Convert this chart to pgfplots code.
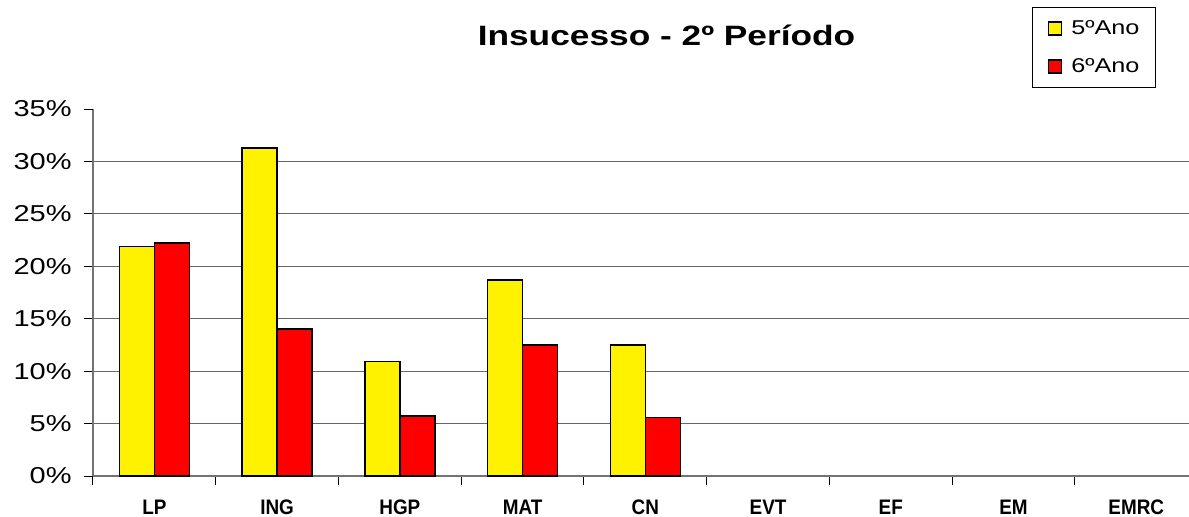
\documentclass[border=0pt]{standalone}
\usepackage{fontspec}
\setmainfont{Liberation Sans}
\newfontfamily\widefont[FakeStretch=1.26]{Liberation Sans}
\newfontfamily\narrowfont[FakeStretch=0.9]{Liberation Sans}
\usepackage{pgfplots}
\pgfplotsset{compat=1.18}
\begin{document}
\begin{tikzpicture}
\begin{axis}[
  at={(0,0)}, anchor=south west,
  scale only axis, width=548pt, height=183.5pt,
  xmin=-0.5, xmax=8.43, ymin=0, ymax=35,
  ybar=0pt, bar width=17.5pt,
  axis x line*=bottom, axis y line*=left,
  axis line style={-, draw=black!55, line width=0.6pt},
  tick align=outside, major tick length=4.5pt,
  tick style={draw=black, line width=0.5pt},
  xtick={-0.5,0.5,...,7.5}, xticklabels={},
  extra x ticks={0,1,2,3,4,5,6,7,8},
  extra x tick labels={LP,ING,HGP,MAT,CN,EVT,EF,EM,EMRC},
  extra x tick style={major tick length=0pt},
  xticklabel style={font=\narrowfont\bfseries\fontsize{10.5}{12}\selectfont, anchor=base, inner sep=0pt, yshift=-19pt},
  ytick={0,5,...,30},
  yticklabels={0\%,5\%,10\%,15\%,20\%,25\%,30\%},
  extra y ticks={35}, extra y tick labels={35\%},
  extra y tick style={grid=none},
  ymajorgrids, grid style={draw=black!60, line width=0.5pt},
  yticklabel style={font=\widefont\fontsize{11.5}{13}\selectfont, anchor=east, inner sep=0pt, xshift=-6pt},
  title={Insucesso - 2º Período},
  title style={at={(0.5233,1.1417)}, anchor=base, yshift=0pt, font=\widefont\bfseries\fontsize{14}{16}\selectfont},
  legend style={at={(0.8568,1.278)}, anchor=north west, draw=black, line width=0.5pt,
    font=\widefont\fontsize{10}{12}\selectfont, inner xsep=7.8pt, inner ysep=6.3pt,
    row sep=10.5pt, nodes={inner sep=0pt},
    /tikz/every odd column/.append style={column sep=4.5pt}},
  legend cell align=left,
]
\addplot[fill=yellow, draw=black, line width=0.75pt,
  legend image code/.code={\draw[fill=yellow, draw=black, line width=0.6pt] (0pt,-3.25pt) rectangle (6.5pt,3.25pt);}]
  coordinates {(0,21.9) (1,31.3) (2,10.9) (3,18.7) (4,12.5)};
\addplot[fill=red, draw=black, line width=0.75pt,
  legend image code/.code={\draw[fill=red, draw=black, line width=0.6pt] (0pt,-3.25pt) rectangle (6.5pt,3.25pt);}]
  coordinates {(0,22.2) (1,14.0) (2,5.7) (3,12.5) (4,5.6)};
\legend{5ºAno,6ºAno}
\end{axis}
\pgfresetboundingbox
\path[use as bounding box] (-46.5pt,-20pt) rectangle (548pt,238pt);
\end{tikzpicture}
\end{document}
